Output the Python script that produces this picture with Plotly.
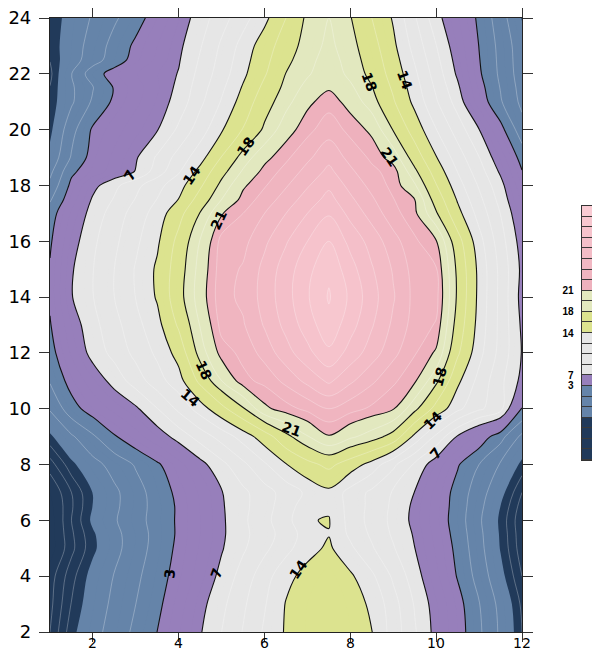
import plotly.graph_objects as go

# ---------------- data ----------------
x_vals = [1, 1.5, 2, 2.5, 3, 3.5, 4, 4.5, 5, 5.5, 6, 6.5, 7, 7.5, 8, 8.5, 9, 9.5, 10, 10.5, 11, 11.5, 12]
y_vals = [2, 3, 4, 5, 5.5, 6, 6.5, 7, 8, 9, 10, 11, 12, 13, 14, 15, 16, 17, 17.5, 18, 18.5, 19, 20, 21, 21.5, 22, 22.5, 23, 24]

z_rows = [
    [-6.0, -3.4, -1.7, -0.15, 1.45, 3.02, 4.9, 6.85, 8.75, 10.6, 12.5, 14.2, 15.1, 16.0, 15.0, 14.05, 11.5, 8.95, 6.4, 4.0, 1.35, -1.35, -4.0],
    [-6.3, -3.95, -2.1, -0.55, 1.0, 2.55, 4.4, 6.4, 8.3, 10.2, 12.1, 14.1, 15.0, 15.8, 14.8, 13.7, 11.2, 8.6, 6.15, 3.75, 1.1, -1.6, -4.25],
    [-6.5, -4.4, -2.45, -0.9, 0.6, 2.15, 3.8, 5.65, 7.5, 9.5, 11.5, 13.5, 14.6, 15.3, 14.3, 12.6, 10.2, 7.8, 5.35, 2.85, 0.2, -2.5, -5.0],
    [-7.5, -5.3, -3.3, -1.6, 0.1, 1.75, 3.45, 5.15, 6.85, 8.5, 10.1, 11.7, 13.4, 14.3, 12.6, 10.7, 8.9, 7.02, 4.8, 2.45, -0.35, -3.1, -5.6],
    [-7.5, -5.2, -3.2, -1.55, 0.05, 1.65, 3.3, 5.0, 6.7, 8.3, 9.75, 11.25, 13.1, 13.93, 11.9, 10.2, 8.5, 6.8, 4.55, 2.2, -0.5, -3.2, -5.7],
    [-7.5, -5.0, -2.7, -1.2, 0.3, 1.75, 3.3, 5.0, 6.7, 8.4, 10.0, 11.6, 13.9, 14.1, 11.6, 9.9, 8.3, 6.5, 4.3, 2.0, -0.7, -3.3, -5.8],
    [-7.3, -5.15, -2.95, -1.4, 0.2, 1.7, 3.3, 5.05, 6.8, 8.3, 9.8, 11.4, 13.3, 13.75, 11.6, 10.0, 8.4, 6.6, 4.4, 2.1, -0.45, -3.02, -5.5],
    [-7.0, -5.0, -2.95, -1.4, 0.2, 1.9, 3.5, 5.2, 6.9, 8.35, 9.8, 11.2, 12.6, 13.55, 11.6, 10.1, 8.55, 6.95, 4.6, 2.2, -0.1, -2.5, -5.0],
    [-5.5, -3.35, -1.7, -0.25, 1.2, 2.7, 4.5, 6.4, 8.25, 10.1, 12.0, 13.9, 15.4, 16.5, 15.0, 13.3, 10.9, 8.45, 5.9, 3.2, 1.0, -1.2, -3.35],
    [-3.3, -1.3, 0.7, 2.8, 4.4, 6.0, 7.7, 9.5, 11.2, 13.0, 15.0, 17.5, 19.4, 20.9, 19.8, 18.8, 17.3, 13.5, 10.1, 6.8, 4.4, 1.7, -1.5],
    [-0.8, 2.2, 4.0, 5.4, 6.7, 8.7, 10.9, 13.1, 15.4, 17.8, 20.7, 21.6, 22.3, 23.0, 22.4, 21.8, 21.1, 18.5, 15.3, 12.7, 10.8, 9.5, 2.9],
    [1.2, 3.8, 5.8, 7.7, 9.6, 11.5, 13.3, 16.5, 19.5, 21.7, 22.3, 23.3, 24.3, 25.2, 24.2, 23.2, 22.2, 21.2, 18.4, 14.4, 11.7, 9.2, 6.5],
    [2.2, 5.2, 7.7, 9.3, 11.0, 12.6, 14.7, 18.7, 21.5, 22.3, 23.4, 24.6, 25.7, 26.8, 25.6, 24.5, 23.3, 22.1, 20.8, 16.3, 12.8, 9.9, 6.9],
    [2.85, 6.0, 8.2, 9.9, 11.7, 13.4, 16.3, 19.6, 22.4, 22.9, 24.1, 25.3, 26.5, 27.7, 26.4, 25.1, 23.8, 22.6, 21.9, 17.2, 13.3, 10.0, 6.7],
    [3.3, 6.9, 8.7, 10.5, 12.3, 14.2, 17.3, 20.3, 22.7, 23.2, 24.4, 25.6, 26.9, 28.1, 26.8, 25.4, 24.1, 22.7, 22.4, 17.7, 13.5, 10.0, 6.4],
    [3.2, 6.8, 8.7, 10.5, 12.4, 14.3, 17.1, 20.1, 22.6, 23.1, 24.3, 25.5, 26.7, 27.8, 26.4, 25.1, 23.9, 22.6, 22.1, 17.6, 13.5, 10.0, 6.6],
    [2.7, 6.2, 8.4, 10.1, 11.9, 13.7, 16.6, 19.6, 22.4, 22.7, 23.8, 24.9, 26.0, 27.0, 25.7, 24.6, 23.4, 22.2, 21.1, 16.8, 12.9, 9.5, 6.2],
    [2.0, 5.2, 7.8, 9.5, 11.3, 13.0, 15.3, 18.1, 20.9, 22.0, 23.0, 24.0, 25.0, 25.9, 24.7, 23.6, 22.4, 21.3, 18.2, 14.6, 11.6, 8.7, 5.4],
    [0.75, 4.3, 7.25, 8.9, 10.6, 12.3, 14.05, 16.85, 19.5, 21.4, 22.45, 23.45, 24.45, 25.35, 24.2, 23.15, 22.05, 21.0, 17.15, 13.8, 10.95, 8.15, 4.7],
    [-0.5, 3.5, 6.4, 8.3, 10.0, 11.7, 13.3, 15.7, 18.5, 20.8, 21.9, 22.9, 23.9, 24.8, 23.7, 22.7, 21.7, 19.7, 16.1, 13.0, 10.3, 7.6, 4.0],
    [-1.5, 2.6, 4.2, 5.65, 7.1, 9.6, 12.05, 14.6, 17.4, 19.7, 21.4, 22.35, 23.35, 24.25, 23.2, 22.25, 21.6, 18.4, 15.1, 12.2, 9.55, 6.7, 3.1],
    [-2.5, 1.2, 3.8, 5.3, 6.8, 9.0, 11.2, 13.3, 16.1, 18.7, 20.6, 21.8, 22.8, 23.7, 22.7, 21.8, 20.4, 17.1, 14.1, 11.4, 8.8, 5.8, 2.2],
    [-3.4, 0.3, 3.3, 4.5, 5.7, 6.9, 9.1, 11.4, 13.8, 16.1, 18.3, 20.4, 21.7, 22.6, 21.7, 20.7, 17.9, 15.1, 12.3, 9.7, 7.05, 3.7, -0.2],
    [-3.8, -1.3, 1.3, 3.4, 4.7, 6.1, 7.7, 10.1, 12.4, 14.8, 17.2, 19.0, 20.7, 21.6, 20.5, 18.7, 16.2, 13.5, 10.7, 8.0, 4.3, 1.2, -1.5],
    [-3.95, -1.3, 0.9, 3.15, 4.5, 5.85, 7.4, 9.7, 11.9, 14.2, 16.5, 18.5, 20.0, 20.85, 19.8, 18.1, 15.7, 13.05, 10.2, 7.35, 3.8, 0.9, -1.75],
    [-4.3, -1.05, 2.15, 3.8, 4.9, 5.95, 7.1, 9.3, 11.4, 13.6, 15.8, 18.05, 19.3, 20.5, 19.1, 17.5, 15.2, 12.6, 9.7, 6.7, 3.3, 0.6, -2.0],
    [-3.95, -1.9, 0.1, 2.0, 3.75, 5.3, 6.85, 8.95, 11.1, 13.25, 15.4, 17.55, 19.0, 20.2, 18.85, 17.15, 14.8, 12.1, 9.25, 6.3, 3.1, 0.5, -2.1],
    [-3.8, -2.0, -0.2, 1.7, 3.4, 5.0, 6.6, 8.6, 10.8, 12.9, 15.0, 17.1, 18.7, 19.9, 18.6, 16.8, 14.4, 11.6, 8.8, 5.9, 2.95, 0.4, -2.2],
    [-4.0, -2.2, -0.8, 0.7, 2.2, 4.0, 5.9, 7.9, 9.8, 11.6, 13.5, 16.0, 18.4, 19.5, 18.1, 16.0, 13.8, 10.7, 7.7, 5.1, 2.6, -0.1, -3.1],
]

labeled_levels = [3, 7, 14, 18, 21]

# contour-line labels: text, x, y and reading angle as seen in the picture
line_label_text = ["18", "14", "21", "18", "14", "21", "7", "18", "14", "21", "18", "14", "7", "3", "7", "14"]
line_label_x = [8.45, 9.27, 8.92, 5.55, 4.31, 4.93, 2.87, 4.58, 4.27, 6.63, 10.08, 9.93, 10.0, 3.8, 4.89, 6.79]
line_label_y = [21.72, 21.78, 19.03, 19.39, 18.37, 16.76, 18.37, 11.38, 10.37, 9.29, 11.14, 9.59, 8.4, 4.1, 4.1, 4.27]
line_label_angle = [70, 70, 55, -55, -55, -65, -60, 65, 40, 20, -75, -45, -50, -85, -70, -55]

x_ticks = [2, 4, 6, 8, 10, 12]
x_tick_text = ["2", "4", "6", "8", "10", "12"]
y_ticks = [2, 4, 6, 8, 10, 12, 14, 16, 18, 20, 22, 24]

# colour key: 24 equal cells, bottom to top, with labels at some cell edges
key_cells = list(range(24))
key_label_pos = [15.5, 13.5, 11.5, 7.5, 6.5]
key_label_text = ["21", "18", "14", "7", "3"]

# ---------------- styles ----------------
NAVY = "#213a5a"
BLUE = "#6584a9"
PURPLE = "#977fbb"
GRAY = "#e6e6e6"
YELLOW = "#dce38f"
PALE = "#e2e8bf"
PINKS = ["#eeb1bd", "#f0b5c0", "#f1b8c3", "#f3bcc6", "#f4bfc9", "#f6c3cc", "#f7c7cf", "#f9cbd3"]

# value bands for the filled contour (levels every 1 from -7 to 28)
START, END, SIZE = -7, 28, 1
NC = int((END - START) / SIZE) + 1
LO = START - SIZE / 2.0
SPAN = NC * SIZE

bands = [(LO, -3, NAVY), (-3, 3, BLUE), (3, 7, PURPLE), (7, 14, GRAY), (14, 18, YELLOW), (18, 21, PALE)]
for k in range(7):
    bands.append((21 + k, 22 + k, PINKS[k]))
bands.append((28, LO + SPAN, PINKS[7]))

fill_scale = []
for lo, hi, col in bands:
    fill_scale.append([(lo - LO) / SPAN, col])
    fill_scale.append([(hi - LO) / SPAN, col])
fill_scale[0][0] = 0.0
fill_scale[-1][0] = 1.0

key_colors = [NAVY] * 4 + [BLUE] * 3 + [PURPLE] + [GRAY] * 4 + [YELLOW] * 2 + [PALE] * 2 + PINKS
key_scale = []
for i, col in enumerate(key_colors):
    key_scale.append([i / 24.0, col])
    key_scale.append([(i + 1) / 24.0, col])

SMOOTH = 1.0
FAINT = "rgba(255,255,255,0.35)"

fig = go.Figure()

# filled bands
fig.add_trace(go.Contour(
    x=x_vals, y=y_vals, z=z_rows,
    autocontour=False,
    contours=dict(start=START, end=END, size=SIZE, coloring="fill", showlines=False),
    colorscale=fill_scale, showscale=False,
    line=dict(width=0, smoothing=SMOOTH),
    hoverinfo="skip",
))

# faint sub-level lines
for s, e, sz in [(22, 28, 1), (19.5, 19.5, 1), (16, 16, 1), (8.75, 12.25, 1.75), (-1, 1, 2), (-6, -4, 1)]:
    fig.add_trace(go.Contour(
        x=x_vals, y=y_vals, z=z_rows,
        autocontour=False,
        contours=dict(start=s, end=e, size=sz, coloring="none", showlines=True),
        line=dict(color=FAINT, width=0.8, smoothing=SMOOTH),
        showscale=False, hoverinfo="skip",
    ))

# black level lines
for lev in labeled_levels:
    fig.add_trace(go.Contour(
        x=x_vals, y=y_vals, z=z_rows,
        autocontour=False,
        contours=dict(start=lev, end=lev, size=1, coloring="none", showlines=True),
        line=dict(color="#111111", width=1.1, smoothing=SMOOTH),
        showscale=False, hoverinfo="skip",
    ))

# colour key
fig.add_trace(go.Heatmap(
    z=[[c] for c in key_cells], x=[0], y=key_cells,
    colorscale=key_scale, zmin=-0.5, zmax=23.5, showscale=False,
    ygap=1, xaxis="x2", yaxis="y2", hoverinfo="skip",
))

for t, lx, ly, ang in zip(line_label_text, line_label_x, line_label_y, line_label_angle):
    fig.add_annotation(x=lx, y=ly, xref="x", yref="y", text=t, showarrow=False,
                       textangle=ang, xanchor="center", yanchor="middle",
                       font=dict(family="DejaVu Sans", size=14, color="black", weight="bold"))

# x tick labels, kept just under the ticks so that they stay inside the page
for tv, tt in zip(x_ticks, x_tick_text):
    fig.add_annotation(x=tv, y=0, xref="x", yref="paper", text=tt, showarrow=False,
                       xanchor="center", yanchor="top", yshift=-2, borderpad=0,
                       font=dict(family="DejaVu Sans", size=14, color="black"))

common = dict(ticks="outside", tickwidth=1.2, tickcolor="#333333",
              showline=True, linecolor="#222222", linewidth=1.2, mirror="ticks",
              showgrid=False, zeroline=False, automargin=False)

# the page body adds an 8 px offset, so margins are reduced by 8 px on the left/top
fig.update_layout(
    width=600, height=654,
    margin=dict(l=42, r=8, t=10, b=30),
    paper_bgcolor="white", plot_bgcolor="#3a3a3a",
    showlegend=False,
    xaxis=dict(domain=[0, 472 / 550.0], range=[1, 12], tickvals=x_ticks, ticklen=9,
               showticklabels=False, **common),
    yaxis=dict(domain=[0, 1], range=[2, 24], tickvals=y_ticks, ticklen=10,
               ticklabelstandoff=4, ticklabeloverflow="allow",
               tickfont=dict(family="DejaVu Sans", size=18, color="black"), **common),
    xaxis2=dict(domain=[531.5 / 550.0, 1.0], anchor="y2", range=[-0.5, 0.5],
                showticklabels=False, ticks="", showgrid=False, zeroline=False,
                showline=True, linecolor="#333333", linewidth=1, mirror=True),
    yaxis2=dict(domain=[(632 - 460) / 614.0, (632 - 206) / 614.0], anchor="x2",
                range=[-0.5, 23.5], side="left",
                tickvals=key_label_pos, ticktext=key_label_text,
                ticks="outside", ticklen=5, tickcolor="rgba(0,0,0,0)",
                ticklabeloverflow="allow",
                tickfont=dict(family="Liberation Sans", size=10, color="black", weight="bold"),
                showgrid=False, zeroline=False,
                showline=True, linecolor="#333333", linewidth=1, mirror=True),
)

fig.write_html("out.html")
